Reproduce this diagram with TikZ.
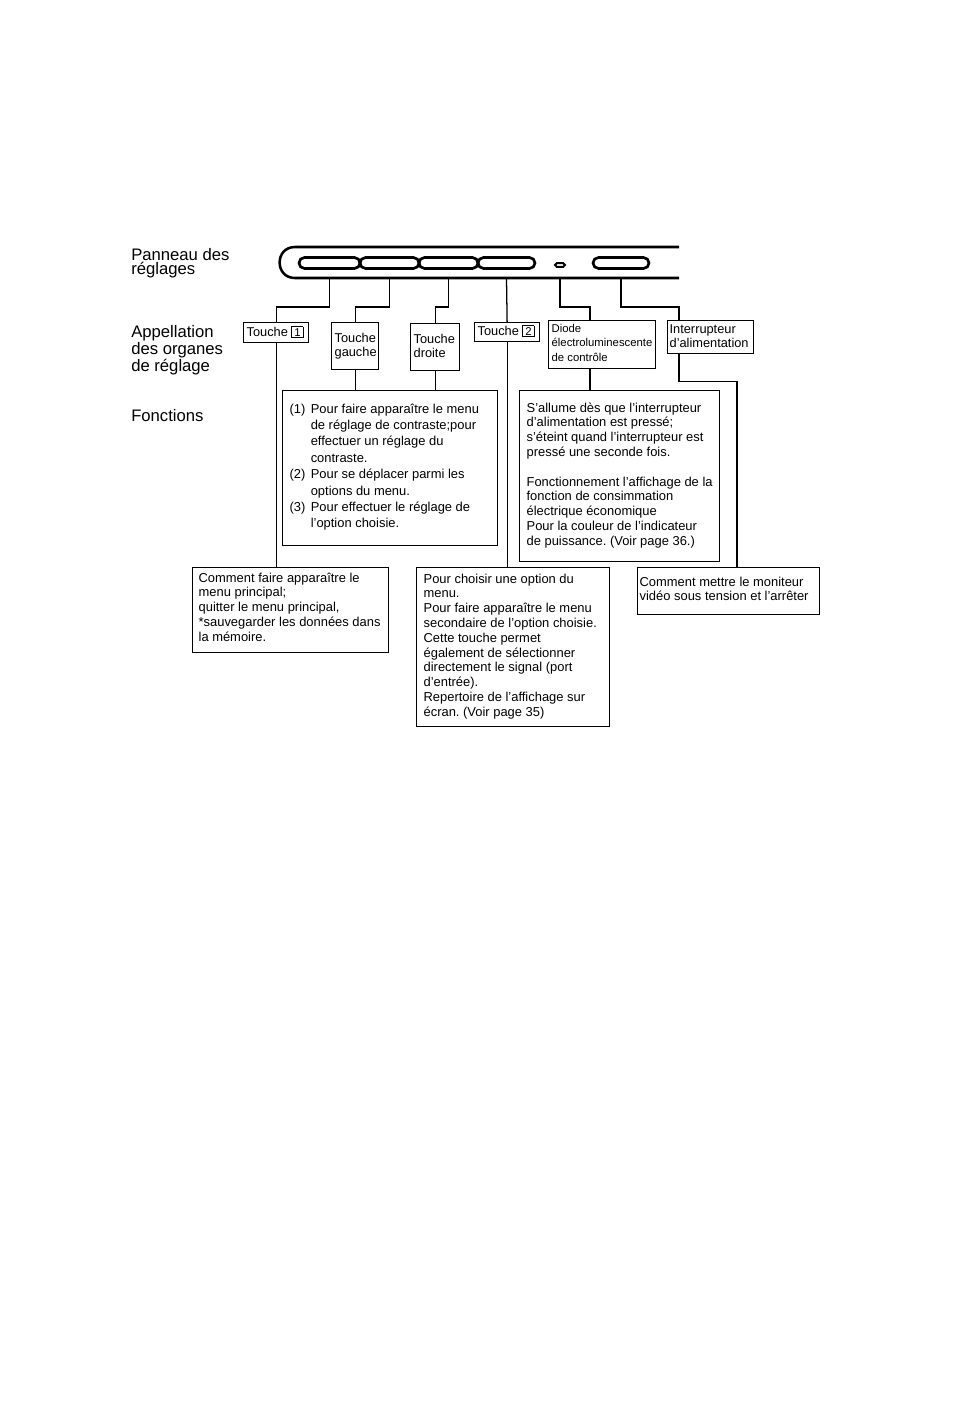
\documentclass[tikz,border=0pt]{standalone}
\usepackage{fontspec}
\setmainfont{Liberation Sans}
\usetikzlibrary{shapes.misc,calc}
\frenchspacing
\newlength\unitpx \setlength\unitpx{0.75pt}
\newcommand\boxtext[5]{\parbox[t][#2\unitpx][t]{#1\unitpx}{\vspace*{#3\unitpx}\hspace*{#4\unitpx}#5}}
\newcommand\rows[1]{\begin{tabular}[t]{@{}l@{}}#1\end{tabular}}
\newcommand\keynum[1]{{\fboxsep=0.8pt\fboxrule=0.7pt\fbox{\fontsize{8.5}{8.5}\selectfont\makebox[6pt]{#1}}}}
\tikzset{
  panel/.style={line width=1.9pt},
  btn/.style={draw, rounded rectangle, line width=2pt, inner sep=0pt, minimum height=8.2pt},
  infobox/.style={draw, line width=0.95pt, anchor=north west, inner sep=0pt},
  wire/.style={line width=0.95pt},
  lbl/.style={anchor=north west, inner sep=0pt, align=left, font=\fontsize{12.5}{10.9}\selectfont},
  keytext/.style={font=\fontsize{9.6}{10.5}\selectfont},
  desctext/.style={font=\fontsize{9.7}{11.1}\selectfont}
}
\begin{document}
\begin{tikzpicture}[x=0.75pt, y=-0.75pt]
  \useasboundingbox (0,0) rectangle (954,1422);
  \node[lbl] (pan) at (131,248) {Panneau des\\réglages};
  \node[lbl] (app) at (131,325) {Appellation\\des organes\\de réglage};
  \node[lbl] (fon) at (131,409) {Fonctions};

  \draw[panel] (679,247) -- (295,247) .. controls (274.5,247) and (274.5,278) .. (295,278) -- (679,278);
  \coordinate (pb) at (0,278);
  \foreach \n/\x/\w in {b1/329.5/45.75pt, b2/389.5/44.25pt, b3/448.5/44.25pt, b4/506.5/42.75pt, pwr/621/42pt}
    \node[btn, minimum width=\w] (\n) at (\x,263) {};
  \node[btn, line width=1.5pt, minimum width=7.5pt, minimum height=2.8pt] (led) at (560,265) {};

  \node[infobox, keytext] (t1) at (243,322) {\boxtext{65}{20}{3.7}{3}{\rows{Touche \keynum{1}}}};
  \node[infobox, keytext] (tg) at (331,322) {\boxtext{47}{47}{9.7}{3}{\rows{Touche\\gauche}}};
  \node[infobox, keytext] (td) at (410,323) {\boxtext{49}{47}{9.7}{3}{\rows{Touche\\droite}}};
  \node[infobox, keytext] (t2) at (474,322) {\boxtext{65}{19}{2.7}{3}{\rows{Touche \keynum{2}}}};
  \node[infobox, font=\fontsize{8.5}{10.9}\selectfont] (diode) at (548,320) {\boxtext{107}{48}{1.3}{3}{\rows{Diode\\électroluminescente\\de contrôle}}};
  \node[infobox, keytext] (inter) at (667,320) {\boxtext{86}{33}{2.7}{2}{\rows{Interrupteur\\d'alimentation}}};

  \node[infobox, font=\fontsize{9.7}{12.3}\selectfont] (fct) at (282,390) {\boxtext{215}{155}{11}{7}{%
    \begin{tabular}[t]{@{}l@{\hspace{4pt}}l@{}}
      (1) & Pour faire apparaître le menu\\
          & de réglage de contraste;pour\\
          & effectuer un réglage du\\
          & contraste.\\
      (2) & Pour se déplacer parmi les\\
          & options du menu.\\
      (3) & Pour effectuer le réglage de\\
          & l'option choisie.
    \end{tabular}}};
  \node[infobox, desctext] (lf) at (519,390) {\boxtext{200}{171}{11}{7}{\rows{S'allume dès que l'interrupteur\\d'alimentation est pressé;\\s'éteint quand l'interrupteur est\\pressé une seconde fois.\\ \\Fonctionnement l'affichage de la\\fonction de consimmation\\électrique économique\\Pour la couleur de l'indicateur\\de puissance. (Voir page 36.)}}};
  \node[infobox, desctext] (cmp) at (192,567) {\boxtext{196}{85}{4}{6}{\rows{Comment faire apparaître le\\menu principal;\\quitter le menu principal,\\{}*sauvegarder les données dans\\la mémoire.}}};
  \node[infobox, desctext] (ch) at (416,567) {\boxtext{193}{159}{5}{7}{\rows{Pour choisir une option du\\menu.\\Pour faire apparaître le menu\\secondaire de l'option choisie.\\Cette touche permet\\également de sélectionner\\directement le signal (port\\d'entrée).\\Repertoire de l'affichage sur\\écran. (Voir page 35)}}};
  \node[infobox, desctext] (mt) at (637,567) {\boxtext{182}{47}{8}{2}{\rows{Comment mettre le moniteur\\vidéo sous tension et l'arrêter}}};

  \coordinate (dtop) at ($(diode.north west)+(42,0)$);
  \coordinate (dbot) at ($(diode.south west)+(42,0)$);
  \coordinate (itop) at ($(inter.north west)+(12,0)$);
  \coordinate (ibot) at ($(inter.south west)+(12,0)$);
  \coordinate (mtop) at ($(mt.north west)+(100,0)$);

  \foreach \b/\t in {b1/t1, b2/tg, b3/td}
    \draw[wire] (\b |- pb) -- ++(0,29) -| (\t.north);
  \draw[wire] (b4 |- pb) -- (t2.north);
  \draw[wire] (led |- pb) -- ++(0,29) -| (dtop);
  \draw[wire] (pwr |- pb) -- ++(0,29) -| (itop);

  \draw[wire] (t1.south) -- (t1.south |- cmp.north);
  \draw[wire] (tg.south) -- (tg.south |- fct.north);
  \draw[wire] (td.south) -- (td.south |- fct.north);
  \draw[wire] (t2.south) -- (t2.south |- ch.north);
  \draw[wire] (dbot) -- (dbot |- lf.north);
  \draw[wire] (ibot) -- ++(0,27) -| (mtop);
\end{tikzpicture}
\end{document}
